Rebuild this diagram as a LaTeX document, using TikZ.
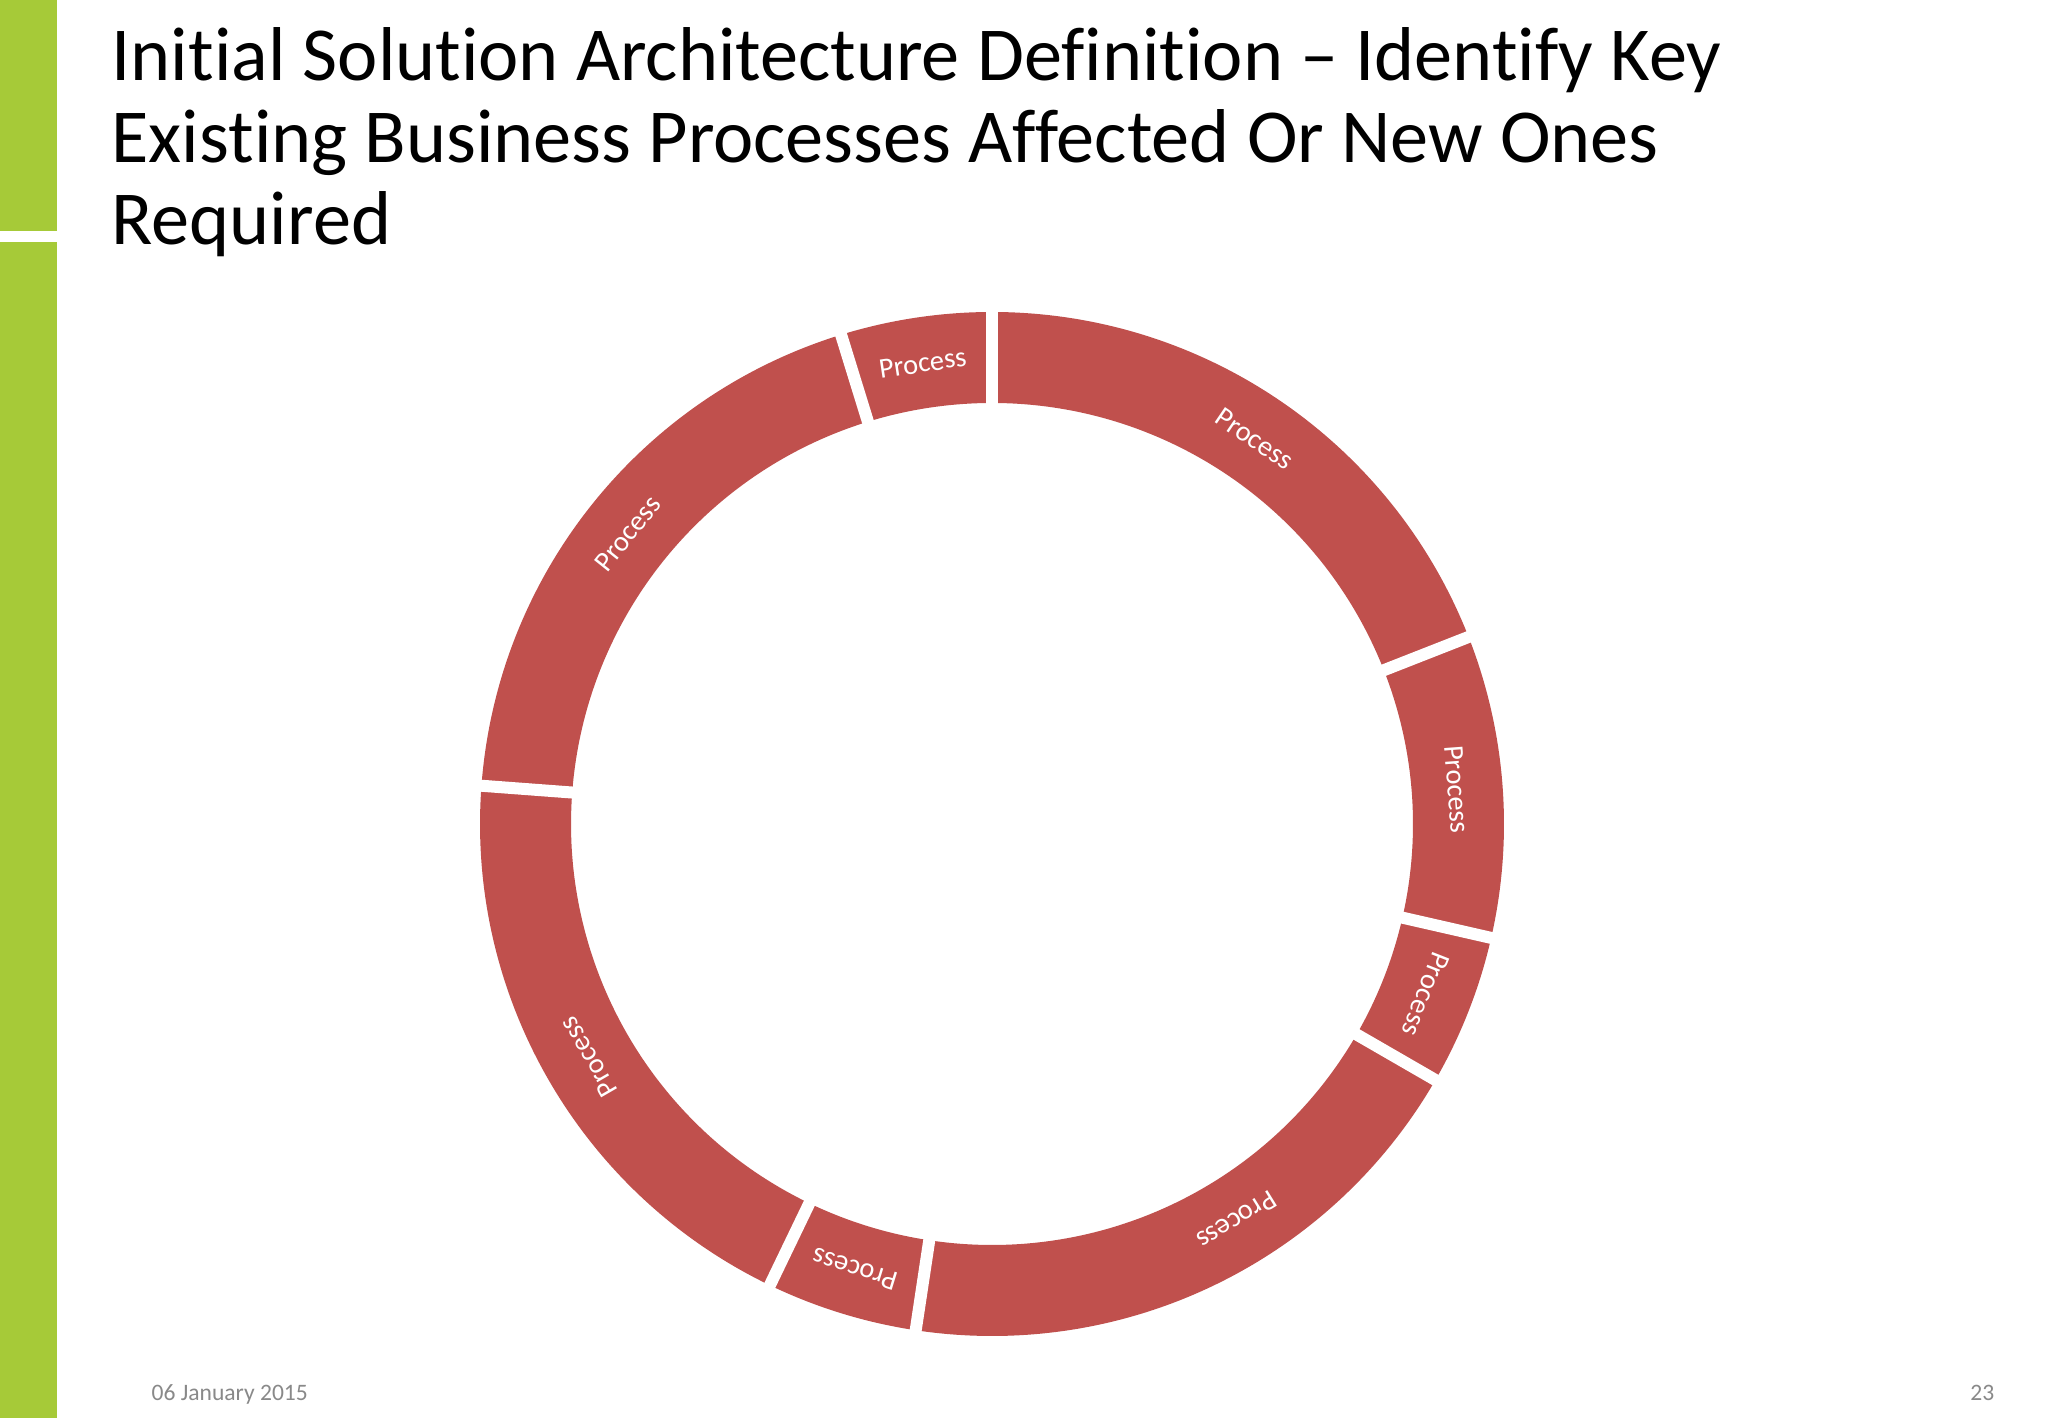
\documentclass[tikz,border=0pt]{standalone}
\usepackage{fontspec}
\setmainfont{Carlito}[Ligatures=NoCommon]
\usetikzlibrary{positioning}

\definecolor{limebar}{RGB}{166,202,56}
\definecolor{procred}{RGB}{192,80,77}
\definecolor{footgray}{RGB}{137,137,137}

\begin{document}
\begin{tikzpicture}[x=0.01cm, y=0.01cm,
    segment/.style={fill=procred, draw=none},
    gapline/.style={white, line width=0.12cm},
    headline/.style={anchor=base west, inner sep=0pt, font=\fontsize{21.7}{23.3}\selectfont},
    proclabel/.style={text=white, inner sep=0pt, font=\fontsize{8.1}{9.7}\selectfont},
    footer/.style={text=footgray, inner sep=0pt, font=\fontsize{6.7}{8}\selectfont}
]
    % Page
    \useasboundingbox (0,0) rectangle (2048,1418);
    \fill[white] (0,0) rectangle (2048,1418);

    % Green side bar
    \fill[limebar] (0,1187) rectangle (57,1418);
    \fill[limebar] (0,0) rectangle (57,1176);

    % Title
    \node[headline] (title1) at (111,1337) {Initial Solution Architecture Definition -- Identify Key};
    \node[headline] (title2) at (111,1255) {Existing Business Processes Affected Or New Ones};
    \node[headline] (title3) at (111,1173) {Required};

    % Ring of processes, clockwise from the top (steps of 360/21 degrees)
    \coordinate (hub) at (992,594);
    \begin{scope}[shift={(hub)}]
    \foreach \s/\e/\o [count=\i] in {0/4/0, 4/6/0, 6/7/0, 7/11/6, 11/12/0, 12/16/0, 16/20/0, 20/21/0} {
        \pgfmathsetmacro{\a}{90-\s*360/21}
        \pgfmathsetmacro{\b}{90-\e*360/21}
        \pgfmathsetmacro{\m}{(\a+\b)/2+\o}
        \fill[segment] (\a:512) arc[start angle=\a, end angle=\b, radius=512]
            -- (\b:421) arc[start angle=\b, end angle=\a, radius=421] -- cycle;
        \node[proclabel, rotate=\m-90] (lbl\i) at (\m:466) {Process};
    }

    % White gaps between the segments
    \foreach \s in {0, 4, 6, 7, 11, 12, 16, 20} {
        \pgfmathsetmacro{\a}{90-\s*360/21}
        \draw[gapline] (\a:405) -- (\a:528);
    }
    \end{scope}

    % Footer
    \node[footer, anchor=base west] (date) at (151,17) {06 January 2015};
    \node[footer, anchor=base east] (pagenum) at (1995,17) {23};
\end{tikzpicture}
\end{document}
